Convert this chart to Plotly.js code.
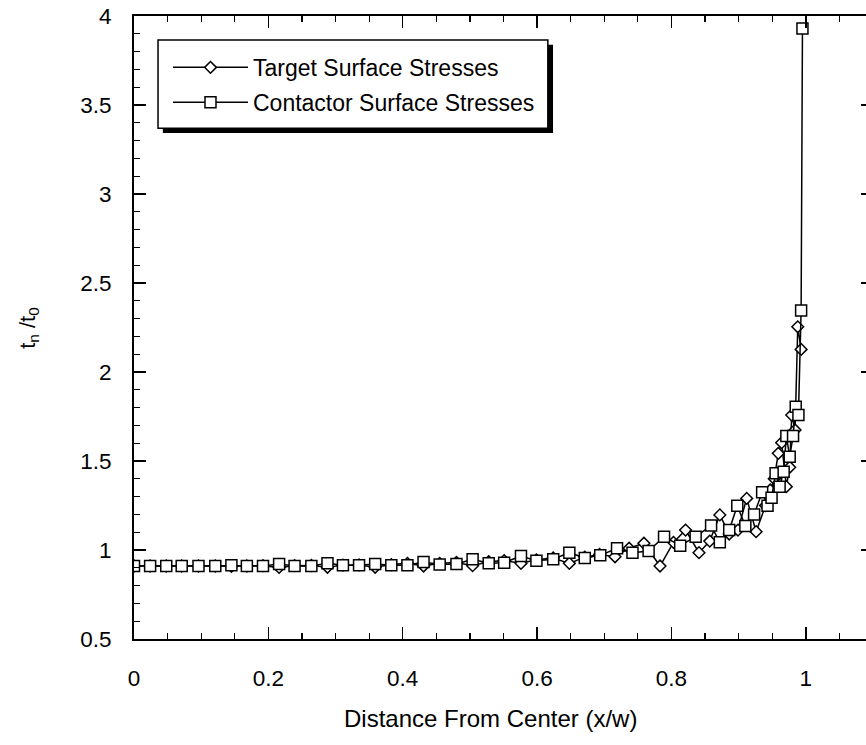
<!DOCTYPE html>
<html>
<head>
<meta charset="utf-8">
<script src="https://cdn.plot.ly/plotly-3.0.1.min.js"></script>
<style>
html,body{margin:0;padding:0;overflow:hidden;background:#fff;}
#chart{width:880px;height:745px;}
</style>
</head>
<body>
<div id="chart"></div>
<script>
// Target surface stresses
const targetX = [0, 0.024, 0.048, 0.071, 0.096, 0.121, 0.145, 0.168, 0.192, 0.216, 0.239, 0.264, 0.288, 0.311, 0.335, 0.359, 0.383, 0.407, 0.431, 0.455, 0.480, 0.504, 0.528, 0.551, 0.576, 0.599, 0.624, 0.648, 0.671, 0.693, 0.716, 0.737, 0.759, 0.783, 0.803, 0.821, 0.841, 0.857, 0.872, 0.886, 0.899, 0.912, 0.926, 0.940, 0.947, 0.953, 0.959, 0.964, 0.971, 0.976, 0.979, 0.984, 0.988, 0.993];
const targetY = [0.91, 0.91, 0.91, 0.91, 0.91, 0.91, 0.908, 0.91, 0.912, 0.902, 0.912, 0.913, 0.903, 0.915, 0.916, 0.903, 0.918, 0.925, 0.91, 0.925, 0.93, 0.912, 0.935, 0.94, 0.925, 0.945, 0.955, 0.925, 0.96, 0.975, 0.962, 1.01, 1.038, 0.91, 1.043, 1.112, 0.985, 1.05, 1.197, 1.09, 1.112, 1.29, 1.103, 1.25, 1.337, 1.40, 1.543, 1.603, 1.356, 1.465, 1.758, 1.674, 2.254, 2.127];
// Contactor surface stresses
const contactorX = [0, 0.024, 0.048, 0.071, 0.096, 0.121, 0.145, 0.168, 0.192, 0.216, 0.239, 0.264, 0.288, 0.311, 0.335, 0.359, 0.383, 0.407, 0.431, 0.455, 0.480, 0.504, 0.528, 0.551, 0.576, 0.599, 0.624, 0.648, 0.671, 0.694, 0.719, 0.742, 0.766, 0.789, 0.813, 0.836, 0.859, 0.872, 0.886, 0.898, 0.910, 0.923, 0.935, 0.943, 0.949, 0.955, 0.961, 0.967, 0.971, 0.976, 0.981, 0.985, 0.989, 0.993, 0.995];
const contactorY = [0.91, 0.91, 0.91, 0.91, 0.91, 0.91, 0.914, 0.91, 0.91, 0.921, 0.91, 0.91, 0.925, 0.914, 0.914, 0.921, 0.914, 0.914, 0.933, 0.918, 0.921, 0.948, 0.925, 0.929, 0.966, 0.94, 0.948, 0.985, 0.955, 0.97, 1.01, 0.985, 0.994, 1.075, 1.024, 1.075, 1.137, 1.043, 1.112, 1.249, 1.135, 1.20, 1.324, 1.249, 1.294, 1.431, 1.356, 1.44, 1.64, 1.524, 1.64, 1.805, 1.758, 2.345, 3.93];

const seriesNames = ["Target Surface Stresses", "Contactor Surface Stresses"];
const xTickVals = [0, 0.2, 0.4, 0.6, 0.8, 1];
const xTickText = ["0", "0.2", "0.4", "0.6", "0.8", "1"];
const yTickVals = [0.5, 1, 1.5, 2, 2.5, 3, 3.5, 4];
const yTickText = ["0.5", "1", "1.5", "2", "2.5", "3", "3.5", "4"];

const FONT = "Liberation Sans, Arial, Helvetica, sans-serif";

const traces = [
  {
    x: targetX, y: targetY, name: seriesNames[0], type: "scatter", mode: "lines+markers",
    legendgroup: "a",
    line: {color: "#000", width: 1.5},
    marker: {symbol: "diamond", size: 9, color: "#fff", line: {color: "#000", width: 1.5}}
  },
  {
    x: contactorX, y: contactorY, name: seriesNames[1], type: "scatter", mode: "lines+markers",
    legendgroup: "b",
    line: {color: "#000", width: 1.5},
    marker: {symbol: "square", size: 11, color: "#fff", line: {color: "#000", width: 1.5}}
  }
];

const axisCommon = {
  showgrid: false, zeroline: false, showline: true, linecolor: "#000", linewidth: 2,
  ticks: "inside", ticklen: 12, tickwidth: 1.5, tickcolor: "#000", mirror: "allticks",
  tickfont: {family: FONT, size: 22.5, color: "#000"}
};

const layout = {
  width: 880, height: 745,
  margin: {l: 134, r: 7, t: 16, b: 106},
  paper_bgcolor: "#fff", plot_bgcolor: "#fff",
  font: {family: FONT, color: "#000"},
  showlegend: true,
  xaxis: Object.assign({}, axisCommon, {
    range: [0, 1.1], tickmode: "array", tickvals: xTickVals, ticktext: xTickText,
    ticklabelstandoff: 18,
    minor: {dtick: 0.05, ticks: "inside", ticklen: 6, tickwidth: 1.2, tickcolor: "#000"}
  }),
  yaxis: Object.assign({}, axisCommon, {
    range: [0.5, 4], tickmode: "array", tickvals: yTickVals, ticktext: yTickText,
    ticklabelstandoff: 16,
    minor: {dtick: 0.1, ticks: "inside", ticklen: 6, tickwidth: 1.2, tickcolor: "#000"}
  }),
  legend: {
    x: 0.046, y: 0.952, xanchor: "left", yanchor: "top",
    bgcolor: "rgba(0,0,0,0)", borderwidth: 0,
    font: {family: FONT, size: 23, color: "#000"},
    traceorder: "grouped", tracegroupgap: 2, itemwidth: 75
  },
  shapes: [
    {type: "rect", xref: "paper", yref: "paper", x0: 0.039, x1: 0.567, y0: 0.812, y1: 0.954,
     fillcolor: "#000", line: {width: 0}, layer: "above"},
    {type: "rect", xref: "paper", yref: "paper", x0: 0.0325, x1: 0.560, y0: 0.820, y1: 0.9615,
     fillcolor: "#fff", line: {color: "#000", width: 1.5}, layer: "above"}
  ],
  annotations: [
    {text: "Distance From Center (x/w)", xref: "x", yref: "paper", x: 0.53, y: -0.127,
     xanchor: "center", yanchor: "middle", showarrow: false,
     font: {family: FONT, size: 24, color: "#000"}},
    {text: "t<sub>n</sub> /t<sub>0</sub>", xref: "paper", yref: "y", x: -0.143, y: 2.25,
     xanchor: "center", yanchor: "middle", showarrow: false, textangle: -90,
     font: {family: FONT, size: 22, color: "#000"}}
  ]
};

Plotly.newPlot("chart", traces, layout, {staticPlot: true, displayModeBar: false});
</script>
</body>
</html>
